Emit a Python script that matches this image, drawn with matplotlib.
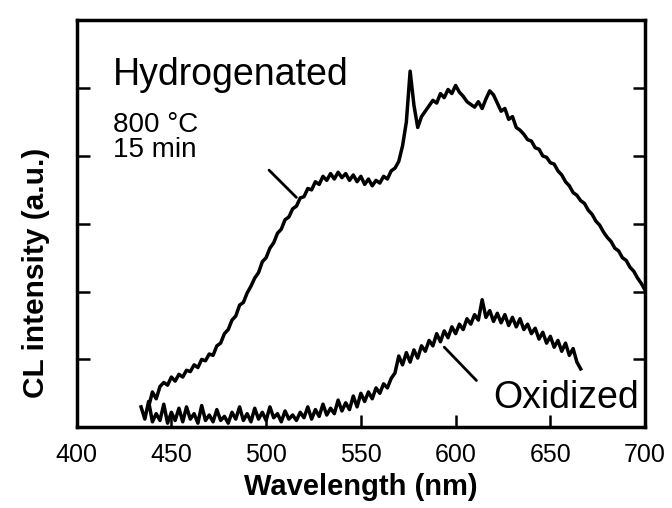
import numpy as np
import matplotlib
matplotlib.use('Agg')
import matplotlib.pyplot as plt

plt.rcParams['font.family'] = ['Liberation Sans', 'DejaVu Sans']

# CL spectrum, hydrogenated sample (800 C, 15 min)
wl_hyd = [438, 440, 442, 444, 446, 448, 450, 452, 454, 456, 458, 460, 462, 464,
          466, 468, 470, 472, 474, 476, 478, 480, 482, 484, 486, 488, 490, 492,
          494, 496, 498, 500, 502, 504, 506, 508, 510, 512, 514, 516, 518, 520,
          522, 524, 526, 528, 530, 532, 534, 536, 538, 540, 542, 544, 546, 548,
          550, 552, 554, 556, 558, 560, 562, 564, 566, 568, 570, 572, 574, 576,
          578, 580, 582, 584, 586, 588, 590, 592, 594, 596, 598, 600, 602, 604,
          606, 608, 610, 612, 614, 616, 618, 620, 622, 624, 626, 628, 630, 632,
          634, 636, 638, 640, 642, 644, 646, 648, 650, 652, 654, 656, 658, 660,
          662, 664, 666, 668, 670, 672, 674, 676, 678, 680, 682, 684, 686, 688,
          690, 692, 694, 696, 698, 700]
int_hyd = [0.30, 0.52, 0.42, 0.60, 0.66, 0.62, 0.74, 0.68, 0.78, 0.74, 0.84, 0.82,
           0.92, 0.88, 1.00, 0.98, 1.08, 1.06, 1.20, 1.24, 1.38, 1.44, 1.58, 1.64,
           1.80, 1.84, 1.98, 2.08, 2.20, 2.28, 2.44, 2.50, 2.64, 2.72, 2.86, 2.92,
           3.06, 3.10, 3.22, 3.26, 3.38, 3.40, 3.52, 3.50, 3.62, 3.58, 3.70, 3.64,
           3.74, 3.66, 3.76, 3.68, 3.74, 3.64, 3.72, 3.62, 3.70, 3.58, 3.66, 3.56,
           3.64, 3.60, 3.70, 3.66, 3.78, 3.82, 3.92, 4.15, 4.50, 5.25, 4.75, 4.42,
           4.58, 4.66, 4.74, 4.82, 4.78, 4.92, 4.86, 4.98, 4.92, 5.04, 4.94, 4.88,
           4.80, 4.76, 4.72, 4.80, 4.70, 4.84, 4.96, 4.90, 4.78, 4.66, 4.70, 4.54,
           4.58, 4.42, 4.38, 4.32, 4.24, 4.22, 4.12, 4.10, 4.00, 3.98, 3.90, 3.88,
           3.78, 3.72, 3.62, 3.56, 3.46, 3.42, 3.34, 3.30, 3.20, 3.14, 3.04, 2.98,
           2.88, 2.80, 2.74, 2.64, 2.60, 2.50, 2.46, 2.36, 2.30, 2.20, 2.12, 2.02]

# CL spectrum, oxidized sample
wl_ox = [434, 436, 438, 440, 442, 444, 446, 448, 450, 452, 454, 456, 458, 460,
         462, 464, 466, 468, 470, 472, 474, 476, 478, 480, 482, 484, 486, 488,
         490, 492, 494, 496, 498, 500, 502, 504, 506, 508, 510, 512, 514, 516,
         518, 520, 522, 524, 526, 528, 530, 532, 534, 536, 538, 540, 542, 544,
         546, 548, 550, 552, 554, 556, 558, 560, 562, 564, 566, 568, 570, 572,
         574, 576, 578, 580, 582, 584, 586, 588, 590, 592, 594, 596, 598, 600,
         602, 604, 606, 608, 610, 612, 614, 616, 618, 620, 622, 624, 626, 628,
         630, 632, 634, 636, 638, 640, 642, 644, 646, 648, 650, 652, 654, 656,
         658, 660, 662, 664, 666]
int_ox = [0.30, 0.12, 0.38, 0.08, 0.20, 0.10, 0.34, 0.06, 0.22, 0.10, 0.28, 0.08,
          0.30, 0.12, 0.20, 0.06, 0.32, 0.10, 0.18, 0.08, 0.26, 0.10, 0.16, 0.06,
          0.22, 0.12, 0.30, 0.10, 0.20, 0.08, 0.28, 0.12, 0.22, 0.10, 0.30, 0.14,
          0.20, 0.08, 0.24, 0.12, 0.18, 0.10, 0.22, 0.14, 0.30, 0.12, 0.26, 0.16,
          0.34, 0.18, 0.28, 0.20, 0.40, 0.24, 0.36, 0.26, 0.46, 0.30, 0.50, 0.38,
          0.52, 0.42, 0.58, 0.50, 0.64, 0.58, 0.72, 0.80, 1.05, 0.92, 1.10, 0.96,
          1.14, 1.02, 1.20, 1.12, 1.28, 1.20, 1.38, 1.26, 1.42, 1.32, 1.48, 1.38,
          1.52, 1.44, 1.60, 1.52, 1.66, 1.58, 1.88, 1.62, 1.72, 1.56, 1.68, 1.54,
          1.66, 1.50, 1.62, 1.48, 1.60, 1.44, 1.52, 1.38, 1.46, 1.30, 1.40, 1.24,
          1.34, 1.18, 1.28, 1.12, 1.24, 1.06, 1.16, 0.96, 0.86]

x_ticks = [400, 450, 500, 550, 600, 650, 700]
y_ticks = [1, 2, 3, 4, 5]

fig = plt.figure(figsize=(6.72, 5.08), dpi=100)
ax = fig.add_axes([0.114, 0.159, 0.846, 0.801])

ax.plot(wl_hyd, int_hyd, color='black', linewidth=2.5)
ax.plot(wl_ox, int_ox, color='black', linewidth=2.5)

ax.set_xlim(400, 700)
ax.set_ylim(0, 6)
ax.set_xticks(x_ticks)
ax.set_yticks(y_ticks)
ax.tick_params(axis='x', direction='in', length=9, width=1.8, pad=11, labelsize=18)
ax.tick_params(axis='y', direction='in', length=9, width=1.8, left=True, right=True,
               labelleft=False)
for s in ax.spines.values():
    s.set_linewidth(2.5)

ax.set_xlabel('Wavelength (nm)', fontsize=21, fontweight='bold', labelpad=5)
ax.set_ylabel('CL intensity (a.u.)', fontsize=21.5, fontweight='bold')
ax.yaxis.set_label_coords(-0.047, 0.38)

ax.text(419, 5.04, 'Hydrogenated', fontsize=27, va='baseline', ha='left')
ax.text(419, 4.35, '800 °C', fontsize=20, va='baseline', ha='left')
ax.text(419, 3.98, '15 min', fontsize=20, va='baseline', ha='left')
ax.text(620, 0.29, 'Oxidized', fontsize=27, va='baseline', ha='left')

ax.annotate('', xy=(517, 3.36), xytext=(500.5, 3.82),
            arrowprops=dict(arrowstyle='-', color='black', linewidth=2.0))
ax.annotate('', xy=(612, 0.66), xytext=(593, 1.21),
            arrowprops=dict(arrowstyle='-', color='black', linewidth=2.0))

fig.savefig('out.png', dpi=100)
